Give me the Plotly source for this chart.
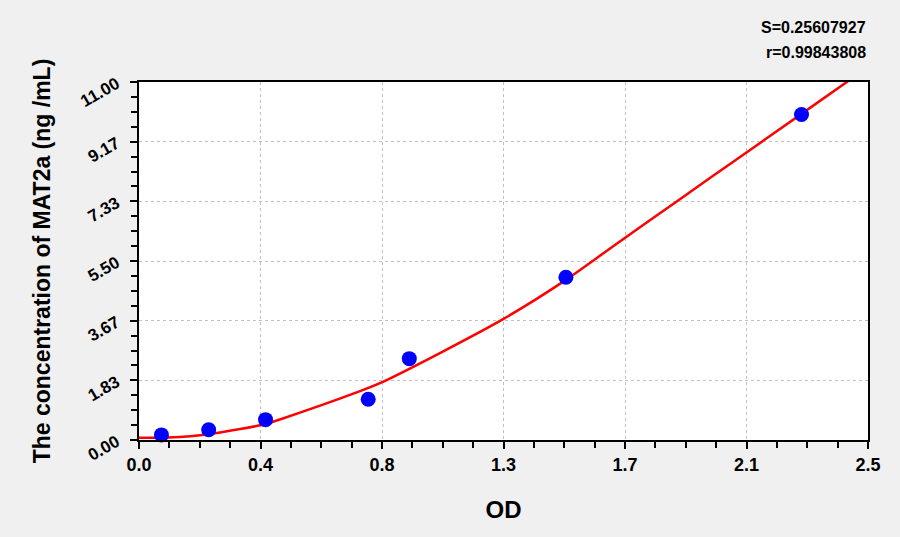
import plotly.graph_objects as go

# standard points (OD reading vs concentration)
od_points = [0.077, 0.239, 0.434, 0.786, 0.927, 1.464, 2.272]
conc_points = [0.156, 0.313, 0.625, 1.25, 2.5, 5.0, 10.0]

# fitted curve
curve_od = [0.0, 0.10, 0.24, 0.434, 0.483, 0.758, 0.83, 1.032, 1.25,
            1.464, 1.649, 1.855, 2.06, 2.272, 2.44]
curve_conc = [0.07, 0.08, 0.18, 0.49, 0.63, 1.50, 1.76, 2.67, 3.72,
              4.92, 6.10, 7.40, 8.69, 10.02, 11.08]

x_tickvals = [0, 0.41667, 0.83333, 1.25, 1.66667, 2.08333, 2.5]
x_ticktext = ["0.0", "0.4", "0.8", "1.3", "1.7", "2.1", "2.5"]
y_tickvals = [0, 1.8333, 3.6667, 5.5, 7.3333, 9.1667, 11.0]
y_ticktext = ["0.00", "1.83", "3.67", "5.50", "7.33", "9.17", "11.00"]

stats_text = ["S=0.25607927", "r=0.99843808"]

fig = go.Figure()
fig.add_trace(go.Scatter(
    x=curve_od, y=curve_conc, mode="lines",
    line=dict(color="#ff0000", width=2.5, shape="spline", smoothing=0.8),
    showlegend=False,
))
fig.add_trace(go.Scatter(
    x=od_points, y=conc_points, mode="markers",
    marker=dict(color="#0000ff", size=15),
    cliponaxis=False, showlegend=False,
))

narrow = "Liberation Sans Narrow, Arial Narrow, Liberation Sans"
bold_narrow = dict(family=narrow, size=18, color="black", weight="bold")

fig.update_layout(
    width=900, height=537,
    paper_bgcolor="#f0f0f0", plot_bgcolor="white",
    margin=dict(l=139, r=32, t=82, b=97),
    xaxis=dict(
        range=[0, 2.5], tickvals=x_tickvals, ticktext=x_ticktext,
        ticks="outside", ticklen=7, tickwidth=2, tickcolor="black",
        minor=dict(dtick=2.5 / 24, tick0=0, ticks="outside", ticklen=6, tickwidth=1.5, tickcolor="black", showgrid=False),
        showline=True, linecolor="black", linewidth=2, mirror=True,
        showgrid=True, gridcolor="#c0c0c0", griddash="dot", gridwidth=1,
        zeroline=False, tickfont=bold_narrow,
        title=dict(text="OD", font=dict(family=narrow, size=24, color="black", weight="bold"), standoff=28),
    ),
    yaxis=dict(
        range=[0, 11], tickvals=y_tickvals, ticktext=y_ticktext, tickangle=-30,
        ticks="outside", ticklen=7, tickwidth=2, tickcolor="black",
        minor=dict(dtick=11 / 24, tick0=0, ticks="outside", ticklen=6, tickwidth=1.5, tickcolor="black", showgrid=False),
        showline=True, linecolor="black", linewidth=2, mirror=True,
        showgrid=True, gridcolor="#c0c0c0", griddash="dot", gridwidth=1,
        zeroline=False, ticklabelstandoff=10,
        tickfont=dict(family="Liberation Sans, Arial", size=17, color="black", weight="bold"),
        title=dict(text="The concentration of MAT2a (ng /mL)", font=dict(family="Liberation Sans, Arial", size=23, color="black", weight="bold"), standoff=20),
    ),
)

for i, txt in enumerate(stats_text):
    fig.add_annotation(
        text=txt, xref="paper", yref="paper", x=1.0, y=1.0, yshift=55 - i * 25,
        xanchor="right", yanchor="middle", showarrow=False,
        font=dict(family=narrow, size=16, color="black", weight="bold"),
    )

fig.write_html("out.html", config={"displayModeBar": False},
               post_script="document.body.style.margin='0';")
